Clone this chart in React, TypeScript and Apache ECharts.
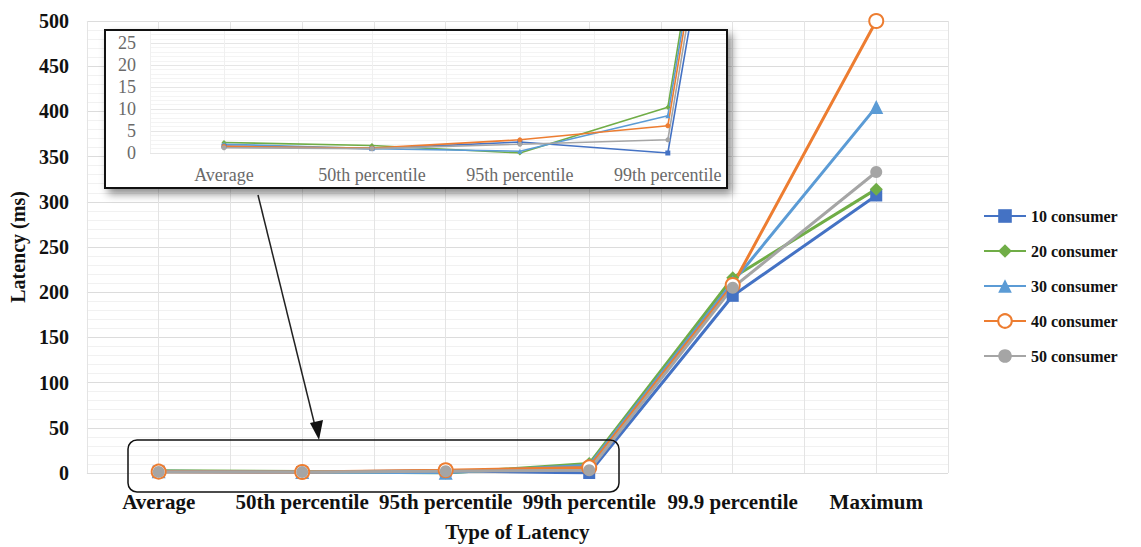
import React, { useEffect, useRef } from "react";
import * as echarts from "echarts";

// Latency categories, shared by the main chart and the zoomed inset
const categories = [
  "Average",
  "50th percentile",
  "95th percentile",
  "99th percentile",
  "99.9 percentile",
  "Maximum",
];

// Latency in milliseconds per consumer count
const consumer10 = [1.6, 1.0, 2.5, 0, 196, 307];
const consumer20 = [2.4, 1.7, 0, 10.4, 216, 314];
const consumer30 = [2.0, 1.0, 0.4, 8.5, 211, 405];
const consumer40 = [1.5, 1.1, 3.0, 6.2, 208, 500];
const consumer50 = [1.2, 1.0, 2.0, 3.0, 205, 333];

const seriesNames = [
  "10 consumer",
  "20 consumer",
  "30 consumer",
  "40 consumer",
  "50 consumer",
];
const seriesValues = [consumer10, consumer20, consumer30, consumer40, consumer50];
const seriesColors = ["#4472C4", "#70AD47", "#5B9BD5", "#ED7D31", "#A5A5A5"];
const seriesSymbols = ["rect", "diamond", "triangle", "emptyCircle", "circle"];
const seriesSymbolSizes = [12, 13, 14, 14, 12];

// Tick values of the two value axes
const mainTicks = [0, 50, 100, 150, 200, 250, 300, 350, 400, 450, 500];
const insetTicks = [0, 5, 10, 15, 20, 25];

// Twelve half-bands, used only to draw vertical grid lines at category centres and edges
const halfBands = Array.from({ length: 12 }, (_, i) => String(i));

const serif = "'Liberation Serif', 'Times New Roman', serif";

export default function App() {
  const ref = useRef<HTMLDivElement>(null);

  useEffect(() => {
    if (!ref.current) return;
    const chart = echarts.init(ref.current, undefined, { renderer: "svg" });

    const mainSeries = seriesNames.map((name, i) => ({
      name,
      type: "line",
      xAxisIndex: 0,
      yAxisIndex: 0,
      data: seriesValues[i],
      symbol: seriesSymbols[i],
      symbolSize: seriesSymbolSizes[i],
      lineStyle: { color: seriesColors[i], width: 3 },
      itemStyle: {
        color: seriesColors[i],
        borderWidth: seriesSymbols[i] === "emptyCircle" ? 2 : 0,
      },
      z: 2,
    }));

    const insetSeries = seriesNames.map((name, i) => ({
      name,
      type: "line",
      xAxisIndex: 2,
      yAxisIndex: 1,
      data: seriesValues[i].map((v, k) => [k, v]),
      symbol: seriesSymbols[i] === "emptyCircle" ? "circle" : seriesSymbols[i],
      symbolSize: 5,
      clip: true,
      lineStyle: { color: seriesColors[i], width: 1.6 },
      itemStyle: { color: seriesColors[i] },
      z: 12,
      legendHoverLink: false,
    }));

    const maxMain = mainTicks[mainTicks.length - 1];
    const maxInset = insetTicks[insetTicks.length - 1];

    chart.setOption({
      animation: false,
      backgroundColor: "#ffffff",
      legend: {
        data: seriesNames,
        orient: "vertical",
        left: 978,
        top: 203,
        itemWidth: 42,
        itemHeight: 17,
        itemGap: 19,
        textStyle: {
          fontFamily: serif,
          fontWeight: "bold",
          fontSize: 16,
          color: "#111111",
        },
      },
      grid: [
        { left: 86, right: 193, top: 21, bottom: 67 },
        { left: 150, right: 414, top: 30, bottom: 394 },
      ],
      xAxis: [
        {
          type: "category",
          gridIndex: 0,
          data: categories,
          boundaryGap: true,
          axisLine: { show: false },
          axisTick: { show: false },
          splitLine: { show: false },
          axisLabel: {
            fontFamily: serif,
            fontWeight: "bold",
            fontSize: 21,
            color: "#111111",
            margin: 18,
            interval: 0,
          },
          name: "Type of Latency",
          nameLocation: "middle",
          nameGap: 48,
          nameTextStyle: {
            fontFamily: serif,
            fontWeight: "bold",
            fontSize: 21,
            color: "#111111",
          },
        },
        {
          type: "category",
          gridIndex: 0,
          data: halfBands,
          boundaryGap: true,
          position: "bottom",
          axisLine: { show: false },
          axisTick: { show: false },
          axisLabel: { show: false },
          splitLine: { show: true, lineStyle: { color: "#e4e4e4", width: 1 } },
        },
        {
          type: "value",
          gridIndex: 1,
          min: -0.5,
          max: 3.4,
          interval: 0.5,
          axisLine: { show: false },
          axisTick: { show: false },
          splitLine: { show: true, lineStyle: { color: "#f0f0f0", width: 1 } },
          axisLabel: {
            fontFamily: serif,
            fontSize: 18,
            color: "#6a6a6a",
            margin: 13,
            formatter: (v: number) =>
              Number.isInteger(v) && v >= 0 && v < categories.length
                ? categories[v]
                : "",
          },
          z: 10,
        },
      ],
      yAxis: [
        {
          type: "value",
          gridIndex: 0,
          min: 0,
          max: maxMain,
          interval: 50,
          axisLine: { show: false },
          axisTick: { show: false },
          splitLine: { show: true, lineStyle: { color: "#dcdcdc", width: 1 } },
          minorTick: { show: false, splitNumber: 5 },
          minorSplitLine: { show: true, lineStyle: { color: "#f1f1f1", width: 1 } },
          axisLabel: {
            fontFamily: serif,
            fontWeight: "bold",
            fontSize: 20,
            color: "#111111",
            margin: 18,
          },
          name: "Latency (ms)",
          nameLocation: "middle",
          nameGap: 58,
          nameTextStyle: {
            fontFamily: serif,
            fontWeight: "bold",
            fontSize: 20,
            color: "#111111",
          },
        },
        {
          type: "value",
          gridIndex: 1,
          min: 0,
          max: 28,
          interval: 5,
          axisLine: { show: false },
          axisTick: { show: false },
          splitLine: { show: true, lineStyle: { color: "#e6e6e6", width: 1 } },
          minorTick: { show: false, splitNumber: 5 },
          minorSplitLine: { show: true, lineStyle: { color: "#f4f4f4", width: 1 } },
          axisLabel: {
            fontFamily: serif,
            fontSize: 18,
            color: "#6a6a6a",
            margin: 14,
            formatter: (v: number) => (v % 5 === 0 && v <= maxInset ? String(v) : ""),
          },
          z: 10,
        },
      ],
      graphic: [
        // white card behind the inset, with a drop shadow
        {
          type: "rect",
          shape: { x: 105, y: 30, width: 622, height: 158 },
          style: {
            fill: "#ffffff",
            stroke: "#111111",
            lineWidth: 2,
            shadowBlur: 8,
            shadowOffsetX: 4,
            shadowOffsetY: 5,
            shadowColor: "rgba(0,0,0,0.45)",
          },
          z: 5,
        },
        // inset frame drawn above the inset lines
        {
          type: "rect",
          shape: { x: 105, y: 30, width: 622, height: 158 },
          style: { fill: "none", stroke: "#111111", lineWidth: 2 },
          z: 20,
        },
        // rounded box marking the zoomed region
        {
          type: "rect",
          shape: { x: 128, y: 440, width: 491, height: 52, r: 9 },
          style: { fill: "none", stroke: "#111111", lineWidth: 1.5 },
          z: 20,
        },
        // arrow from the inset to the marked region
        {
          type: "line",
          shape: { x1: 258, y1: 195, x2: 316, y2: 430 },
          style: { stroke: "#222222", lineWidth: 1.5 },
          z: 20,
        },
        {
          type: "polygon",
          shape: {
            points: [
              [319, 440],
              [310, 423],
              [323, 420],
            ],
          },
          style: { fill: "#111111" },
          z: 20,
        },
      ],
      series: [...mainSeries, ...insetSeries],
    });

    return () => chart.dispose();
  }, []);

  return (
    <div
      ref={ref}
      style={{ position: "absolute", left: 0, top: 0, width: 1141, height: 547 }}
    />
  );
}
